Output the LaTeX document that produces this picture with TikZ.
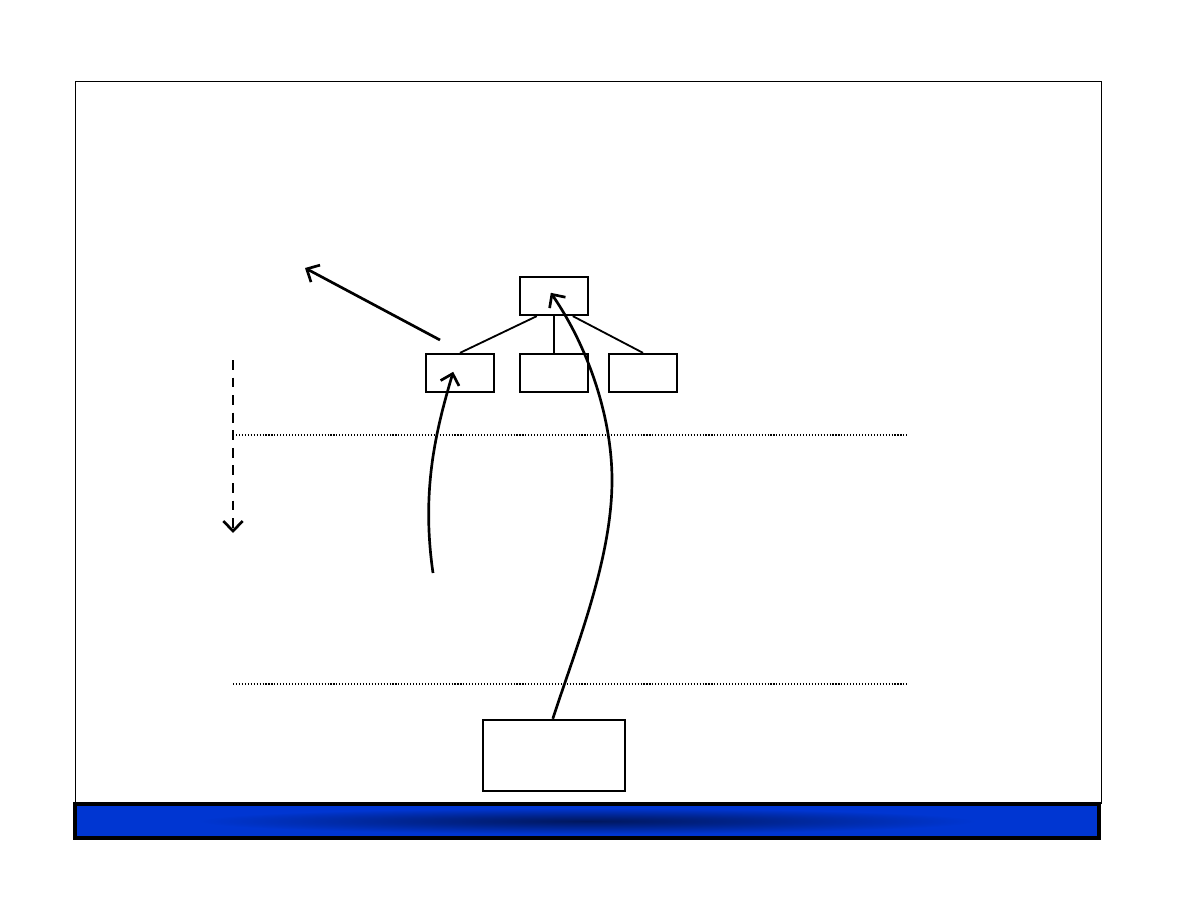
\documentclass[tikz,border=0pt]{standalone}
\usepackage{tikz}
\usetikzlibrary{arrows.meta, positioning}
\usepackage{xcolor}
\definecolor{barblue}{HTML}{0036D2}
\definecolor{bardark}{HTML}{00175E}
\pgfdeclareradialshading{barshade}{\pgfpoint{0bp}{0bp}}{color(0bp)=(bardark); color(8bp)=(bardark!60!barblue); color(19bp)=(barblue); color(50bp)=(barblue)}

\begin{document}
\begin{tikzpicture}[
    x=0.025cm, y=-0.025cm,
    box/.style={draw, line width=1.6pt, minimum width=1.7cm, minimum height=0.95cm, inner sep=0pt},
    bigbox/.style={draw, line width=1.5pt, minimum width=3.55cm, minimum height=1.78cm, inner sep=0pt},
    link/.style={line width=1.3pt},
    arr/.style={line width=1.9pt, -{Straight Barb[length=2.5mm, width=4.8mm, line width=1.9pt]}},
    level/.style={line width=0.8pt, dash pattern=on 0.8pt off 1.3pt},
]
\useasboundingbox (0,0) rectangle (1188,918);

\draw[line width=0.7pt] (75,804) -- (75,81) -- (1101,81) -- (1101,804);
\draw[line width=2.8pt, shading=barshade] (75,804) rectangle (1099,838);

\node[box] (root) at (554,296) {};
\node[box] (left) at (460,373) {};
\node[box] (mid) at (554,373) {};
\node[box] (right) at (643,373) {};
\node[bigbox] (base) at (554,755.5) {};

\draw[link] ([xshift=-0.43cm]root.south) -- (left.north);
\draw[link] (root.south) -- (mid.north);
\draw[link] ([xshift=0.47cm]root.south) -- (right.north);

\coordinate (upstart) at (440,340);
\coordinate (upend) at (305,268);
\draw[arr] (upstart) -- (upend);

\coordinate (downstart) at (233,360);
\coordinate (downend) at (233,533);
\draw[arr, dash pattern=on 7pt off 5.5pt] (downstart) -- (downend);

\coordinate (line1a) at (233,435);
\coordinate (line1b) at (909,435);
\coordinate (line2a) at (233,684);
\coordinate (line2b) at (909,684);
\draw[level] (line1a) -- (line1b);
\draw[level] (line2a) -- (line2b);

\coordinate (leftfoot) at (433,573);
\draw[arr] (leftfoot) .. controls (421,490) and (436,430) .. ([xshift=-0.17cm,yshift=0.03cm]left.center);
\draw[arr] ([xshift=-0.03cm]base.north) .. controls (575,650) and (612,560) .. (612,480)
    .. controls (612,420) and (590,350) .. ([xshift=-0.08cm,yshift=0.08cm]root.center);

\end{tikzpicture}
\end{document}
